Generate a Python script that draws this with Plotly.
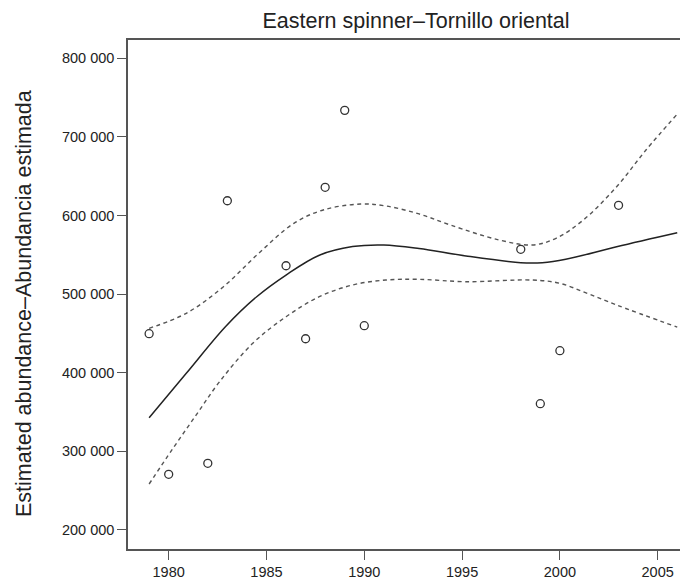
import plotly.graph_objects as go

# observed abundance estimates
obs_years = [1979, 1980, 1982, 1983, 1986, 1987, 1988, 1989, 1990, 1998, 1999, 2000, 2003]
obs_values = [449600, 270700, 284700, 618800, 536100, 443200, 635900, 733800, 459800,
              557000, 360600, 428000, 613000]

# smoothed trend and confidence band
fit_years = [1979.0, 1980.9, 1982.9, 1984.5, 1986.0, 1987.7, 1989.4, 1991.0, 1992.8,
             1995.2, 1998.0, 1999.1, 2000.3, 2002.9, 2006.0]
fit_values = [342700, 399200, 458500, 496700, 524300, 549500, 560500, 562500, 558000,
              548500, 540000, 540000, 544300, 560300, 578100]

upper_years = [1979.0, 1980.9, 1982.8, 1984.6, 1986.4, 1987.9, 1989.8, 1991.1, 1992.8,
               1994.4, 1996.9, 1998.6, 1999.8, 2001.2, 2002.9, 2004.4, 2006.0]
upper_values = [456500, 475600, 509400, 551900, 590100, 607000, 614600, 612100, 602000,
                587900, 568800, 562500, 571000, 594300, 636600, 683300, 729000]

lower_years = [1979.0, 1980.2, 1981.4, 1982.6, 1984.3, 1986.0, 1987.7, 1989.4,
               1991.1, 1992.8, 1995.2, 1998.6, 2000.0, 2001.4, 2002.9, 2006.0]
lower_values = [258400, 303000, 346000, 388500, 437400, 471200, 496700, 511600,
                517900, 518800, 515800, 517900, 513700, 501000, 486100, 458000]

x_ticks = [1980, 1985, 1990, 1995, 2000, 2005]
y_ticks = [200000, 300000, 400000, 500000, 600000, 700000, 800000]
y_tick_text = ["200 000", "300 000", "400 000", "500 000", "600 000", "700 000", "800 000"]

FONT = "Liberation Sans, Arial, Helvetica, sans-serif"

# the page body adds an 8px offset, so the figure is 8px smaller each way
W, H, OFF = 680, 571, 8

fig = go.Figure()
for yrs, vals in [(upper_years, upper_values), (lower_years, lower_values)]:
    fig.add_trace(go.Scatter(
        x=yrs, y=vals, mode="lines", line_shape="spline",
        line=dict(color="#555555", width=1.4, dash="4px,3.5px"),
        hoverinfo="skip",
    ))
fig.add_trace(go.Scatter(
    x=fit_years, y=fit_values, mode="lines", line_shape="spline",
    line=dict(color="#222222", width=1.5),
))
fig.add_trace(go.Scatter(
    x=obs_years, y=obs_values, mode="markers",
    marker=dict(symbol="circle-open", size=8, color="#333333", line=dict(width=1.3)),
))

fig.update_layout(
    width=W, height=H,
    margin=dict(l=128 - OFF, r=0, t=40 - OFF, b=30),
    paper_bgcolor="white", plot_bgcolor="white",
    showlegend=False,
    font=dict(family=FONT, color="#222222"),
    title=dict(
        text="Eastern spinner\u2013Tornillo oriental",
        x=(416 - OFF) / W, xanchor="center", y=1 - (20 - OFF) / H, yanchor="middle",
        font=dict(size=21.5, family=FONT, color="#222222"),
    ),
    xaxis=dict(
        range=[1977.92, 2006.55], tickvals=x_ticks,
        showgrid=False, zeroline=False,
        showline=True, linecolor="#555555", linewidth=1.5, mirror=True,
        ticks="outside", ticklen=9, tickwidth=1.3, tickcolor="#555555",
        tickfont=dict(size=14.5, family=FONT, color="#222222"),
    ),
    yaxis=dict(
        range=[175700, 823300], tickvals=y_ticks, ticktext=y_tick_text,
        showgrid=False, zeroline=False,
        showline=True, linecolor="#555555", linewidth=1.5,
        ticks="outside", ticklen=9, tickwidth=1.3, tickcolor="#555555",
        tickfont=dict(size=14.5, family=FONT, color="#222222"),
    ),
    annotations=[dict(
        text="Estimated abundance\u2013Abundancia estimada",
        xref="paper", yref="paper", x=(24 - 128) / 560, y=(549 - 304) / 509,
        xanchor="center", yanchor="middle", textangle=-90, showarrow=False,
        font=dict(size=21.5, family=FONT, color="#222222"),
    )],
)

fig.write_html("out.html")
